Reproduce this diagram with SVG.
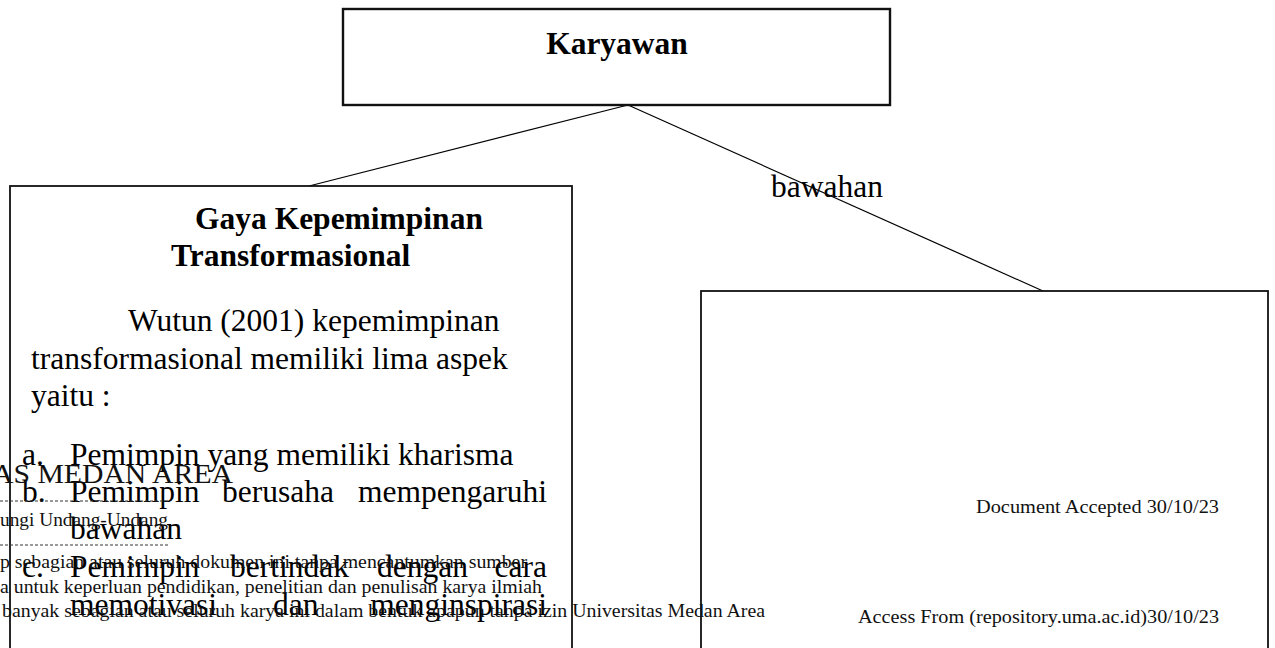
<svg xmlns="http://www.w3.org/2000/svg" width="1275" height="648" viewBox="0 0 1275 648">
<style>
.box{fill:#fff;stroke:#111;stroke-width:1.8}
.t{font-family:"Liberation Serif","Times New Roman",serif;font-size:31.5px;fill:#000}
.b{font-weight:bold}
.w{font-family:"Liberation Serif","Times New Roman",serif;font-size:18.5px;fill:#111}
.dash{stroke:#333;stroke-width:1;stroke-dasharray:3 2;fill:none}
.con{stroke:#000;stroke-width:1.2;fill:none}
</style>
<rect width="1275" height="648" fill="#fff"/>
<g id="connectors">
<line class="con" x1="628" y1="105" x2="309" y2="186"/>
<line class="con" x1="628" y1="105" x2="1043" y2="291"/>
</g>
<g id="karyawan">
<rect class="box" x="343" y="9" width="547" height="96" style="stroke-width:2.4"/>
<text class="t b" x="617" y="54" text-anchor="middle">Karyawan</text>
</g>
<g id="gaya">
<rect class="box" x="10" y="186" width="562" height="480"/>
<text class="t b" x="195" y="229">Gaya Kepemimpinan</text>
<text class="t b" x="171" y="266">Transformasional</text>
<text class="t" x="128" y="331">Wutun (2001) kepemimpinan</text>
<text class="t" x="31" y="369">transformasional memiliki lima aspek</text>
<text class="t" x="31" y="406">yaitu :</text>
<text class="t" x="22" y="465">a.</text>
<text class="t" x="70" y="465">Pemimpin yang memiliki kharisma</text>
<text class="t" x="22" y="502">b.</text>
<text class="t" x="70" y="502">Pemimpin</text>
<text class="t" x="222" y="502">berusaha</text>
<text class="t" x="547" y="502" text-anchor="end">mempengaruhi</text>
<text class="t" x="70" y="539">bawahan</text>
<text class="t" x="22" y="577">c.</text>
<text class="t" x="70" y="577">Pemimpin</text>
<text class="t" x="230" y="577">bertindak</text>
<text class="t" x="377" y="577">dengan</text>
<text class="t" x="547" y="577" text-anchor="end">cara</text>
<text class="t" x="70" y="615">memotivasi</text>
<text class="t" x="273" y="615">dan</text>
<text class="t" x="547" y="615" text-anchor="end">menginspirasi</text>
</g>
<g id="right-box">
<rect class="box" x="701" y="291" width="567" height="375"/>
</g>
<g id="label">
<text class="t" x="771" y="197">bawahan</text>
</g>
<g id="watermark">
<text class="w" x="-8" y="483" style="font-size:27px" textLength="241" lengthAdjust="spacingAndGlyphs">AS MEDAN AREA</text>
<line class="dash" x1="0" y1="501" x2="170" y2="501"/>
<text class="w" x="0" y="526" textLength="168" lengthAdjust="spacingAndGlyphs">ungi Undang-Undang</text>
<line class="dash" x1="0" y1="545" x2="170" y2="545"/>
<text class="w" x="0" y="568" textLength="527" lengthAdjust="spacingAndGlyphs">p sebagian atau seluruh dokumen ini tanpa mencantumkan sumber</text>
<text class="w" x="0" y="593" textLength="542" lengthAdjust="spacingAndGlyphs">a untuk keperluan pendidikan, penelitian dan penulisan karya ilmiah</text>
<text class="w" x="2" y="617" textLength="763" lengthAdjust="spacingAndGlyphs">banyak sebagian atau seluruh karya ini dalam bentuk apapun tanpa izin Universitas Medan Area</text>
<text class="w" x="976" y="513" textLength="243" lengthAdjust="spacingAndGlyphs">Document Accepted 30/10/23</text>
<text class="w" x="858" y="623" textLength="361" lengthAdjust="spacingAndGlyphs">Access From (repository.uma.ac.id)30/10/23</text>
</g>
</svg>
